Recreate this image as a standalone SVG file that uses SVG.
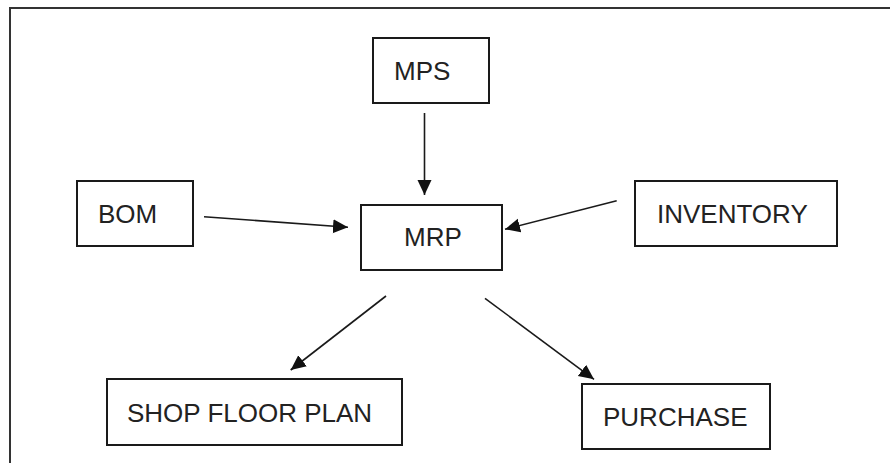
<svg xmlns="http://www.w3.org/2000/svg" width="890" height="463" viewBox="0 0 890 463">
<style>
.box{fill:#fff;stroke:#1a1a1a;stroke-width:2}
.lbl{font-family:"Liberation Sans",Arial,sans-serif;font-size:26px;fill:#222}
.conn{stroke:#1a1a1a;stroke-width:1.6;fill:none;marker-end:url(#ah)}
</style>
<defs>
<marker id="ah" markerUnits="userSpaceOnUse" markerWidth="16" markerHeight="16" refX="15" refY="7" orient="auto">
<path d="M0,0 L15,7 L0,14 z" fill="#111"/>
</marker>
</defs>
<rect x="0" y="0" width="890" height="463" fill="#fff"/>
<rect x="10" y="8" width="900" height="500" fill="none" stroke="#333" stroke-width="2"/>
<g id="connectors">
<line class="conn" x1="424.5" y1="113" x2="424.5" y2="195"/>
<line class="conn" x1="204" y1="216.7" x2="348" y2="227.3"/>
<line class="conn" x1="616.7" y1="200.7" x2="505" y2="229.3"/>
<line class="conn" x1="386" y1="296" x2="290.7" y2="370"/>
<line class="conn" x1="485" y1="298.3" x2="594" y2="379.3"/>
</g>
<g id="mps"><rect class="box" x="373" y="38" width="116" height="65"/><text class="lbl" x="394" y="80">MPS</text></g>
<g id="bom"><rect class="box" x="77" y="181" width="116" height="65"/><text class="lbl" x="98" y="223">BOM</text></g>
<g id="inventory"><rect class="box" x="635" y="181" width="202" height="65"/><text class="lbl" x="657" y="223">INVENTORY</text></g>
<g id="mrp"><rect class="box" x="361" y="205" width="141" height="65"/><text class="lbl" x="404" y="246">MRP</text></g>
<g id="shop"><rect class="box" x="107" y="379" width="295" height="66"/><text class="lbl" x="127" y="422">SHOP FLOOR PLAN</text></g>
<g id="purchase"><rect class="box" x="582" y="384" width="188" height="65"/><text class="lbl" x="603" y="426">PURCHASE</text></g>
</svg>
